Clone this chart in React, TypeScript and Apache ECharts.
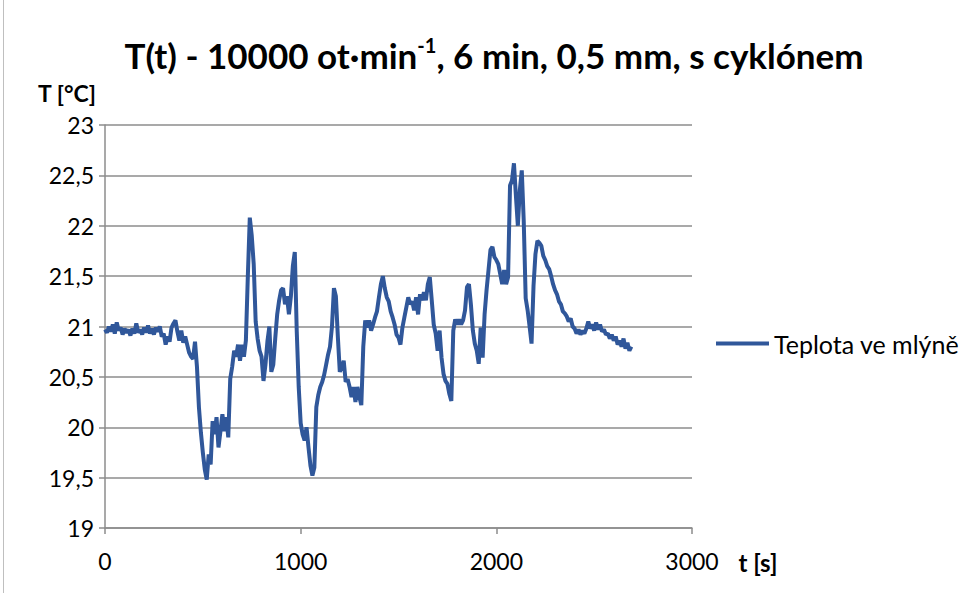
import React, { useEffect, useRef } from "react";
import * as echarts from "echarts";

const TITLE_MAIN = "T(t) - 10000 ot·min";
const TITLE_SUP = "-1";
const TITLE_REST = ", 6 min, 0,5 mm, s cyklónem";
const Y_NAME = "T [°C]";
const X_NAME = "t [s]";
const SERIES_NAME = "Teplota ve mlýně";

const X_MIN = 0;
const X_MAX = 3000;
const X_STEP = 1000;
const Y_MIN = 19;
const Y_MAX = 23;
const Y_STEP = 0.5;

const SAMPLE_STEP_S = 10;

// temperature [°C], one reading every 10 s, t = 0 … 890 s
const temps0to890 = [
  20.97, 20.94, 21.0, 20.95, 21.02, 20.93, 21.04, 20.96, 20.99, 20.92,
  20.98, 20.94, 20.97, 20.91, 20.98, 20.93, 21.03, 20.94, 20.97, 20.92,
  20.99, 20.94, 21.01, 20.93, 20.98, 20.92, 20.99, 20.95, 21.0, 20.9,
  20.93, 20.82, 20.9, 20.85, 20.99, 21.03, 21.06, 20.95, 20.86, 20.96,
  20.84, 20.9, 20.82, 20.74, 20.7, 20.68, 20.85, 20.6, 20.2, 19.95,
  19.75, 19.58, 19.48, 19.73, 19.63, 20.06, 19.93, 20.1, 19.8, 19.96,
  20.13, 19.96, 20.1, 19.9, 20.48, 20.6, 20.76, 20.7, 20.82, 20.66,
  20.82, 20.7, 20.86, 21.5, 22.08, 21.9, 21.62, 21.05, 20.88, 20.76,
  20.7, 20.46, 20.62, 20.85, 21.0, 20.55, 20.62, 20.88, 21.12, 21.26,
];

// t = 900 … 1790 s
const temps900to1790 = [
  21.36, 21.38, 21.22, 21.3, 21.12, 21.3, 21.6, 21.74, 20.95, 20.4,
  20.04, 19.93, 19.87, 20.0, 19.8, 19.62, 19.52, 19.6, 20.2, 20.32,
  20.4, 20.45, 20.52, 20.62, 20.72, 20.8, 21.0, 21.38, 21.3, 20.9,
  20.55, 20.6, 20.66, 20.45, 20.48, 20.4, 20.3, 20.4, 20.25, 20.4,
  20.3, 20.22, 20.8, 21.06, 20.99, 21.06, 20.96, 21.02, 21.09, 21.15,
  21.29, 21.42, 21.5, 21.38, 21.29, 21.25, 21.15, 21.09, 21.02, 20.92,
  20.89, 20.82, 20.99, 21.09, 21.19, 21.29, 21.22, 21.25, 21.16, 21.29,
  21.12, 21.32, 21.26, 21.34, 21.26, 21.42, 21.49, 21.26, 21.02, 20.93,
  20.76, 20.96, 20.69, 20.53, 20.46, 20.43, 20.33, 20.26, 20.96, 21.07,
];

// t = 1800 … 2690 s
const temps1800to2690 = [
  21.02, 21.07, 21.02, 21.06, 21.16, 21.39, 21.42, 21.22, 20.96, 20.83,
  20.76, 20.63, 20.99, 20.69, 21.12, 21.36, 21.56, 21.76, 21.79, 21.69,
  21.66, 21.62, 21.52, 21.42, 21.56, 21.42, 21.49, 22.4, 22.45, 22.62,
  22.3, 22.0, 22.35, 22.55, 22.05, 21.28, 21.16, 21.0, 20.83, 21.4,
  21.72, 21.85, 21.83, 21.8, 21.7, 21.66, 21.6, 21.57, 21.5, 21.42,
  21.36, 21.32, 21.25, 21.22, 21.15, 21.13, 21.1, 21.05, 21.08, 21.0,
  20.98, 20.93, 20.97, 20.92, 20.96, 20.93, 20.98, 21.05, 20.98, 21.02,
  20.96, 21.04, 20.97, 21.02, 20.95, 20.97, 20.92, 20.93, 20.88, 20.92,
  20.86, 20.9, 20.82, 20.86, 20.8, 20.88, 20.78, 20.84, 20.76, 20.8,
];

const temps = [...temps0to890, ...temps900to1790, ...temps1800to2690];
const seriesData = temps.map((v, i) => [i * SAMPLE_STEP_S, v]);

const FONT = "Lato";
const LINE_COLOR = "#30579a";
const GRID_COLOR = "#8c8c8c";

export default function App() {
  const ref = useRef<HTMLDivElement>(null);

  useEffect(() => {
    if (!ref.current) return;
    const chart = echarts.init(ref.current, undefined, { renderer: "svg" });
    chart.setOption({
      animation: false,
      backgroundColor: "#ffffff",
      textStyle: { fontFamily: FONT },
      grid: { left: 105, top: 125, width: 587, height: 403, containLabel: false },
      graphic: [
        {
          type: "line",
          shape: { x1: 3.5, y1: 0, x2: 3.5, y2: 593 },
          style: { stroke: "#bfbfbf", lineWidth: 1 },
          silent: true,
        },
        {
          type: "text",
          x: 494,
          y: 55,
          style: {
            text: `{a|${TITLE_MAIN}}{s|${TITLE_SUP}}{a|${TITLE_REST}}`,
            align: "center",
            verticalAlign: "middle",
            rich: {
              a: { fontFamily: FONT, fontWeight: "bold", fontSize: 35, fill: "#000", lineHeight: 40 },
              s: { fontFamily: FONT, fontWeight: "bold", fontSize: 20, fill: "#000", verticalAlign: "top", lineHeight: 26 },
            },
          },
        },
        {
          type: "text",
          x: 67,
          y: 93,
          style: {
            text: Y_NAME,
            align: "center",
            verticalAlign: "middle",
            fontFamily: FONT,
            fontWeight: "bold",
            fontSize: 23,
            fill: "#000",
          },
        },
        {
          type: "text",
          x: 758,
          y: 562,
          style: {
            text: X_NAME,
            align: "center",
            verticalAlign: "middle",
            fontFamily: FONT,
            fontWeight: "bold",
            fontSize: 24,
            fill: "#000",
          },
        },
      ],
      legend: {
        left: 711,
        top: 326,
        icon: "rect",
        itemWidth: 53,
        itemHeight: 4,
        textStyle: { fontFamily: FONT, fontSize: 25, color: "#000" },
        data: [SERIES_NAME],
      },
      xAxis: {
        type: "value",
        min: X_MIN,
        max: X_MAX,
        interval: X_STEP,
        axisLine: { show: true, lineStyle: { color: GRID_COLOR, width: 1.5 } },
        axisTick: { show: true, inside: false, length: 6, lineStyle: { color: GRID_COLOR, width: 1.5 } },
        splitLine: { show: false },
        axisLabel: {
          color: "#000",
          fontFamily: FONT,
          fontSize: 23,
          margin: 21,
          formatter: (v: number) => String(v),
        },
      },
      yAxis: {
        type: "value",
        min: Y_MIN,
        max: Y_MAX,
        interval: Y_STEP,
        axisLine: { show: true, lineStyle: { color: GRID_COLOR, width: 1.5 } },
        axisTick: { show: true, inside: false, length: 6, lineStyle: { color: GRID_COLOR, width: 1.5 } },
        splitLine: { show: true, lineStyle: { color: GRID_COLOR, width: 1.5 } },
        axisLabel: {
          color: "#000",
          fontFamily: FONT,
          fontSize: 23,
          margin: 11,
          formatter: (v: number) => String(v).replace(".", ","),
        },
      },
      series: [
        {
          name: SERIES_NAME,
          type: "line",
          data: seriesData,
          showSymbol: false,
          symbol: "none",
          lineStyle: { color: LINE_COLOR, width: 4 },
          itemStyle: { color: LINE_COLOR },
        },
      ],
    });
    return () => chart.dispose();
  }, []);

  return (
    <div
      ref={ref}
      style={{ position: "absolute", left: 0, top: 0, width: 972, height: 593, background: "#fff" }}
    />
  );
}
